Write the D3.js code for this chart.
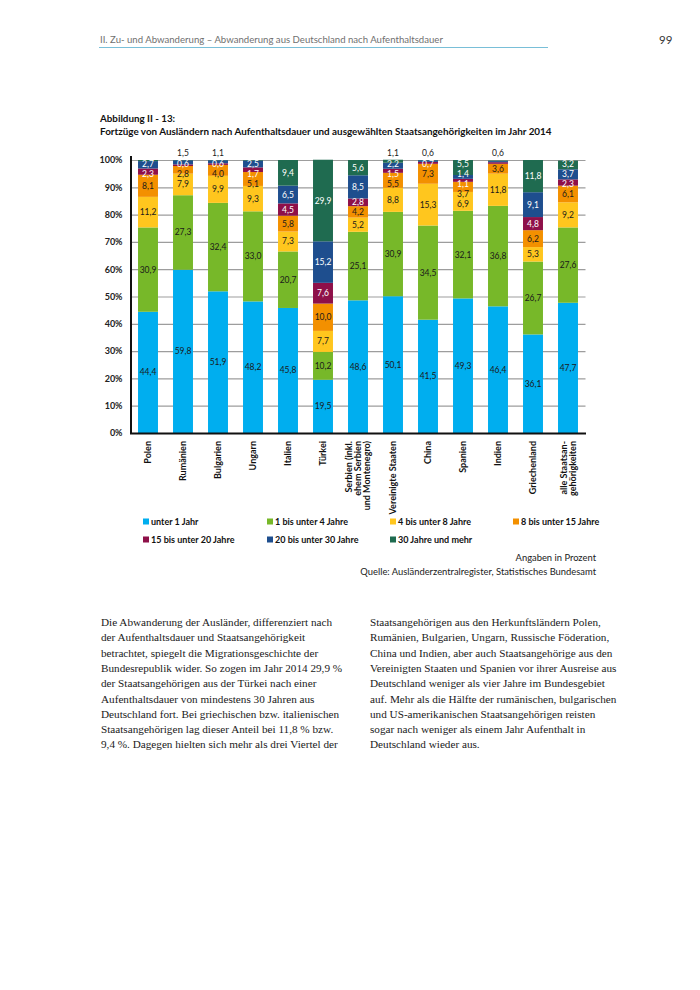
<!DOCTYPE html>
<html><head><meta charset="utf-8">
<script src="https://cdn.jsdelivr.net/npm/d3@7"></script>
<style>
html,body{margin:0;padding:0;background:#fff;}
svg{display:block;}
</style></head>
<body>
<script>
// ---------- DATA ----------
const categories = ["Polen","Rumänien","Bulgarien","Ungarn","Italien","Türkei",
  "Serbien (inkl.|ehem Serbien|und Montenegro)","Vereinigte Staaten","China","Spanien",
  "Indien","Griechenland","alle Staatsan-|gehörigkeiten"];
const seriesNames = ["unter 1 Jahr","1 bis unter 4 Jahre","4 bis unter 8 Jahre","8 bis unter 15 Jahre",
  "15 bis unter 20 Jahre","20 bis unter 30 Jahre","30 Jahre und mehr"];
const unter1   = [44.4,59.8,51.9,48.2,45.8,19.5,48.6,50.1,41.5,49.3,46.4,36.1,47.7];
const bis4     = [30.9,27.3,32.4,33.0,20.7,10.2,25.1,30.9,34.5,32.1,36.8,26.7,27.6];
const bis8     = [11.2, 7.9, 9.9, 9.3, 7.3, 7.7, 5.2, 8.8,15.3, 6.9,11.8, 5.3, 9.2];
const bis15    = [ 8.1, 2.8, 4.0, 5.1, 5.8,10.0, 4.2, 5.5, 7.3, 3.7, 3.6, 6.2, 6.1];
const bis20    = [ 2.3, 0.6, 0.6, 1.7, 4.5, 7.6, 2.8, 1.5, 0.7, 1.1, 0.6, 4.8, 2.3];
const bis30    = [ 2.7, 1.5, 1.1, 2.5, 6.5,15.2, 8.5, 2.2, 0.6, 1.4, 0.4, 9.1, 3.7];
const ab30     = [ 0.4, 0.1, 0.1, 0.2, 9.4,29.9, 5.6, 1.1, 0.1, 5.5, 0.2,11.8, 3.2];
const seriesValues = [unter1,bis4,bis8,bis15,bis20,bis30,ab30];
const yTicks = [0,10,20,30,40,50,60,70,80,90,100];
const colors = ["#00AEEF","#77B829","#FFC61E","#F39000","#8E1049","#1E4E8E","#1F6B50"];
const whiteText = [false,false,false,false,true,true,true];

// ---------- SETUP ----------
const W=700,H=990;
const svg=d3.select("body").append("svg").attr("width",W).attr("height",H);
const sans="Lato, 'Open Sans', sans-serif";
const serif="'Liberation Serif','DejaVu Serif',serif";

// header
svg.append("text").attr("x",100).attr("y",43).attr("font-family",sans).attr("font-size",9.6)
  .attr("fill","#707070").text("II. Zu- und Abwanderung – Abwanderung aus Deutschland nach Aufenthaltsdauer");
svg.append("line").attr("x1",99).attr("x2",548).attr("y1",47.5).attr("y2",47.5)
  .attr("stroke","#79bfd8").attr("stroke-width",1.2);
svg.append("text").attr("x",659).attr("y",44).attr("font-family",sans).attr("font-size",11.5)
  .attr("fill","#333").text("99");

// title
svg.append("text").attr("x",100).attr("y",122).attr("font-family",sans).attr("font-size",9.8)
  .attr("font-weight","bold").attr("fill","#111").text("Abbildung II - 13:");
svg.append("text").attr("x",100).attr("y",135).attr("font-family",sans).attr("font-size",9.9)
  .attr("font-weight","bold").attr("fill","#111")
  .text("Fortzüge von Ausländern nach Aufenthaltsdauer und ausgewählten Staatsangehörigkeiten im Jahr 2014");

// scales
const x=d3.scaleBand().domain(categories).range([130.5,585.5]).paddingInner(0.43).paddingOuter(0.215);
const y=d3.scaleLinear().domain([0,100]).range([433,160]);

// grid / y axis
const yAxis=d3.axisLeft(y).tickValues(yTicks).tickSize(-(585.5-130.5)).tickFormat(d=>d+"%");
const gy=svg.append("g").attr("transform","translate(130.5,0)").call(yAxis);
gy.select(".domain").remove();
gy.selectAll(".tick line").attr("stroke","#9d9d9d").attr("stroke-width",1.2);
gy.selectAll(".tick text").attr("x",-8).attr("font-family",sans).attr("font-size",9)
  .attr("font-weight","bold").attr("fill","#222");

// stacked data
const rows=categories.map((c,i)=>{const o={cat:c};seriesNames.forEach((s,k)=>o[s]=seriesValues[k][i]);return o;});
const stack=d3.stack().keys(seriesNames)(rows);

const gBars=svg.append("g");
stack.forEach((layer,k)=>{
  gBars.selectAll(null).data(layer).enter().append("rect")
    .attr("x",d=>x(d.data.cat)).attr("width",x.bandwidth())
    .attr("y",d=>y(d[1])).attr("height",d=>Math.max(0,y(d[0])-y(d[1])))
    .attr("fill",colors[k]);
});

// axes lines
svg.append("line").attr("x1",131).attr("x2",131).attr("y1",156).attr("y2",434).attr("stroke","#111").attr("stroke-width",2);
svg.append("line").attr("x1",130).attr("x2",586).attr("y1",433.5).attr("y2",433.5).attr("stroke","#111").attr("stroke-width",2);

// value labels with simple collision relaxation
const fmt=v=>d3.format(".1f")(v).replace(".",",");
const gLab=svg.append("g").attr("font-family",sans).attr("font-size",8.5).attr("text-anchor","middle");
const gap=10.2, topBound=y(100)+3.6;
categories.forEach((c,i)=>{
  let topK=-1;
  seriesValues.forEach((arr,k)=>{if(arr[i]>=0.5) topK=k;});
  const labs=[];
  seriesValues.forEach((arr,k)=>{
    const v=arr[i]; if(v<0.5) return;
    const layer=stack[k][i];
    let cy=(y(layer[0])+y(layer[1]))/2, col=whiteText[k]?"#fff":"#1a1a1a";
    if(k===topK && v<1.6){
      gLab.append("text").attr("x",x(c)+x.bandwidth()/2).attr("y",y(100)-7).attr("dy","0.35em")
        .attr("fill","#1a1a1a").text(fmt(v));
      return;
    }
    labs.push({y:cy,col,v});
  });
  labs.sort((a,b)=>a.y-b.y);
  for(let it=0;it<300;it++){
    let moved=false;
    for(let j=0;j<labs.length-1;j++){
      const d=labs[j+1].y-labs[j].y;
      if(d<gap-0.01){const s=(gap-d)/2;labs[j].y-=s;labs[j+1].y+=s;moved=true;}
    }
    if(labs.length && labs[0].y<topBound){labs[0].y=topBound;}
    if(!moved) break;
  }
  for(let j=1;j<labs.length;j++) if(labs[j].y<labs[j-1].y+gap) labs[j].y=labs[j-1].y+gap;
  labs.forEach(l=>{
    gLab.append("text").attr("x",x(c)+x.bandwidth()/2).attr("y",l.y).attr("dy","0.35em")
      .attr("fill",l.col).text(fmt(l.v));
  });
});

// x labels
const gx=svg.append("g").attr("font-family",sans).attr("font-size",9).attr("font-weight","bold").attr("fill","#111");
categories.forEach(c=>{
  const lines=c.split("|");
  const cx=x(c)+x.bandwidth()/2;
  const n=lines.length, lh=9;
  lines.forEach((ln,j)=>{
    const off=(j-(n-1)/2)*lh;
    gx.append("text").attr("transform",`translate(${cx+off+3.3},441) rotate(-90)`)
      .attr("text-anchor","end").text(ln);
  });
});

// legend
const legX=[143,267,390,513,143,267,390];
const legY=[522,522,522,522,540,540,540];
const gL=svg.append("g").attr("font-family",sans).attr("font-size",9).attr("font-weight","bold").attr("fill","#111");
seriesNames.forEach((s,k)=>{
  gL.append("rect").attr("x",legX[k]).attr("y",legY[k]-3.5).attr("width",6).attr("height",6).attr("fill",colors[k]);
  gL.append("text").attr("x",legX[k]+8).attr("y",legY[k]).attr("dy","0.35em").text(s);
});

// source
svg.append("text").attr("x",596).attr("y",561).attr("text-anchor","end").attr("font-family",sans)
  .attr("font-size",9.4).attr("fill","#222").text("Angaben in Prozent");
svg.append("text").attr("x",596).attr("y",574.5).attr("text-anchor","end").attr("font-family",sans)
  .attr("font-size",9.4).attr("fill","#222").text("Quelle: Ausländerzentralregister, Statistisches Bundesamt");

// body text
const leftText=["Die Abwanderung der Ausländer, differenziert nach","der Aufenthaltsdauer und Staatsangehörigkeit",
"betrachtet, spiegelt die Migrationsgeschichte der","Bundesrepublik wider. So zogen im Jahr 2014 29,9 %",
"der Staatsangehörigen aus der Türkei nach einer","Aufenthaltsdauer von mindestens 30 Jahren aus",
"Deutschland fort. Bei griechischen bzw. italienischen","Staatsangehörigen lag dieser Anteil bei 11,8 % bzw.",
"9,4 %. Dagegen hielten sich mehr als drei Viertel der"];
const rightText=["Staatsangehörigen aus den Herkunftsländern Polen,","Rumänien, Bulgarien, Ungarn, Russische Föderation,",
"China und Indien, aber auch Staatsangehörige aus den","Vereinigten Staaten und Spanien vor ihrer Ausreise aus",
"Deutschland weniger als vier Jahre im Bundesgebiet","auf. Mehr als die Hälfte der rumänischen, bulgarischen",
"und US-amerikanischen Staatsangehörigen reisten","sogar nach weniger als einem Jahr Aufenthalt in",
"Deutschland wieder aus."];
[[leftText,101],[rightText,370]].forEach(([arr,x0])=>{
  arr.forEach((t,i)=>{
    svg.append("text").attr("x",x0).attr("y",626+i*15.3).attr("font-family",serif)
      .attr("font-size",11.2).attr("fill","#1a1a1a").text(t);
  });
});
</script>
</body></html>
